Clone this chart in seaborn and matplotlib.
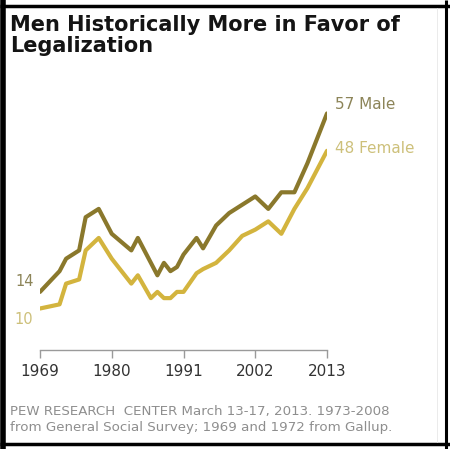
import matplotlib
matplotlib.use("Agg")
import matplotlib.pyplot as plt
from matplotlib.lines import Line2D
import pandas as pd
import seaborn as sns

# Share favoring legalization of marijuana, by gender (%)
years = [1969, 1972, 1973, 1975, 1976, 1978, 1980, 1983, 1984, 1986, 1987,
         1988, 1989, 1990, 1991, 1993, 1994, 1996, 1998, 2000, 2002, 2004,
         2006, 2008, 2010, 2013]
male = [14, 19, 22, 24, 32, 34, 28, 24, 27, 21, 18,
        21, 19, 20, 23, 27, 24.5, 30, 33, 35, 37, 34,
        38, 38, 45, 57]
female = [10, 11, 16, 17, 24, 27, 22, 16, 18, 12.5, 14,
          12.5, 12.5, 14, 14, 18.5, 19.5, 21, 24, 27.5, 29, 31,
          28, 34, 39, 48]
xticks = [1969, 1980, 1991, 2002, 2013]

male_color = "#8a782c"
female_color = "#d3b43e"
male_text = "#8c8458"
female_text = "#cdc07a"

df = pd.DataFrame({
    "year": years * 2,
    "value": male + female,
    "gender": ["Male"] * len(years) + ["Female"] * len(years),
})

sns.set_theme(style="white")
plt.rcParams["font.family"] = ["DejaVu Sans"]

W, H = 450, 449
fig = plt.figure(figsize=(W / 100, H / 100), dpi=100)
fig.patch.set_facecolor("white")

# axes placed so the baseline sits at the x-axis line
left_px, right_px, top_px, bottom_px = 40, 327, 101, 350
ax = fig.add_axes([left_px / W, 1 - bottom_px / H,
                   (right_px - left_px) / W, (bottom_px - top_px) / H])

sns.lineplot(data=df, x="year", y="value", hue="gender",
             palette={"Male": male_color, "Female": female_color},
             linewidth=3.0, legend=False, ax=ax,
             solid_joinstyle="round", solid_capstyle="round")

ax.set_xlim(1969, 2013)
ax.set_ylim(0, 60)
ax.set_xlabel("")
ax.set_ylabel("")
ax.set_yticks([])
ax.set_xticks(xticks)
ax.set_xticklabels([str(t) for t in xticks], fontsize=11, color="#333333")
for side in ["top", "right", "left"]:
    ax.spines[side].set_visible(False)
ax.spines["bottom"].set_color("#9a9a9a")
ax.spines["bottom"].set_linewidth(1.0)
ax.tick_params(axis="x", direction="out", length=6, width=1.0,
               color="#9a9a9a", pad=4, bottom=True)
ax.patch.set_alpha(0)

# start and end value labels
ax.text(1968.0, male[0] + 2.6, f"{male[0]}", ha="right", va="center",
        fontsize=10.5, color=male_text)
ax.text(1968.0, female[0] - 2.6, f"{female[0]}", ha="right", va="center",
        fontsize=10.5, color=female_text)
ax.text(2014.3, male[-1] + 2.2, f"{male[-1]} Male", ha="left", va="center",
        fontsize=11, color=male_text)
ax.text(2014.3, female[-1] + 0.5, f"{female[-1]} Female", ha="left",
        va="center", fontsize=11, color=female_text)
for t in ax.texts:
    t.set_clip_on(False)

# title
fig.text(10 / W, 1 - 15 / H, "Men Historically More in Favor of\nLegalization",
         ha="left", va="top", fontsize=15, fontweight="bold",
         color="#141414", linespacing=1.08)

# source note
fig.text(10 / W, 1 - 405 / H,
         "PEW RESEARCH  CENTER March 13-17, 2013. 1973-2008\n"
         "from General Social Survey; 1969 and 1972 from Gallup.",
         ha="left", va="top", fontsize=9.6, color="#8e8e8e", linespacing=1.3)

# black frame around the graphic
frame = dict(color="black", transform=fig.transFigure, solid_capstyle="butt")
fig.add_artist(Line2D([2.5 / W, 2.5 / W], [0, 1], linewidth=4.0, **frame))
fig.add_artist(Line2D([0, 1], [1 - 6 / H, 1 - 6 / H], linewidth=2.5, **frame))
fig.add_artist(Line2D([446 / W, 446 / W], [0, 1], linewidth=2.2, **frame))
fig.add_artist(Line2D([0, 1], [1 - 444 / H, 1 - 444 / H], linewidth=2.5, **frame))
fig.add_artist(Line2D([437 / W, 437 / W], [1 - 8 / H, 1 - 442 / H],
                      linewidth=0.6, color="#e8e8e8", transform=fig.transFigure))

fig.savefig("out.png", dpi=100, facecolor="white")
